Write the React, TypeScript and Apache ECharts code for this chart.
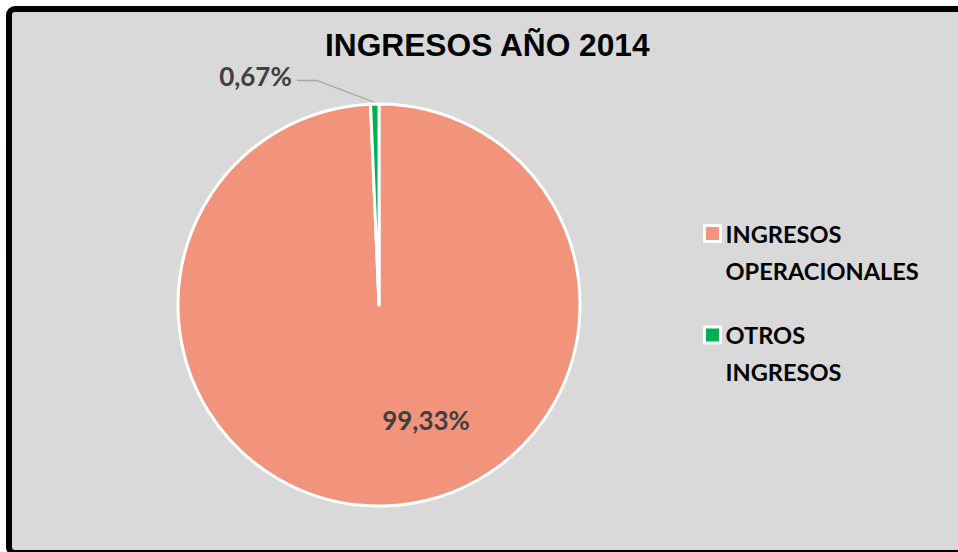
import React, { useEffect, useRef } from "react";
import * as echarts from "echarts";

const categories = ["INGRESOS\nOPERACIONALES", "OTROS\nINGRESOS"];
const values = [99.33, 0.67];
const labels = ["99,33%", "0,67%"];
const colors = ["#F2937B", "#00B050"];
const titleText = "INGRESOS AÑO 2014";

export default function App() {
  const ref = useRef<HTMLDivElement>(null);
  useEffect(() => {
    if (!ref.current) return;
    const chart = echarts.init(ref.current, undefined, { renderer: "svg" });
    const option: any = {
      animation: false,
      backgroundColor: "#ffffff",
      graphic: [
        {
          type: "rect",
          z: -10,
          silent: true,
          shape: { x: 9, y: 9, width: 975, height: 544, r: 6 },
          style: { fill: "#D9D9D9", stroke: "#000000", lineWidth: 6 },
        },
      ],
      title: {
        text: titleText,
        left: 325,
        top: 29,
        padding: 0,
        textStyle: {
          fontFamily: "Liberation Sans",
          fontWeight: "bold",
          fontSize: 31.7,
          color: "#000000",
        },
      },
      legend: {
        orient: "vertical",
        left: 703,
        top: 178,
        padding: 0,
        itemWidth: 16,
        itemHeight: 16,
        itemGap: -9.5,
        icon: "rect",
        selectedMode: false,
        itemStyle: { borderColor: "#ffffff", borderWidth: 3 },
        formatter: (name: string) => "\u00a0\n" + name,
        textStyle: {
          fontFamily: "Lato",
          fontWeight: "bold",
          fontSize: 23.6,
          lineHeight: 37,
          color: "#000000",
        },
        data: categories,
      },
      series: [
        {
          type: "pie",
          center: [379, 305],
          radius: 201,
          startAngle: 90,
          clockwise: true,
          avoidLabelOverlap: false,
          itemStyle: { borderColor: "#ffffff", borderWidth: 3 },
          emphasis: { disabled: true },
          labelLayout: (params: any) => {
            const r = params.rect;
            if (params.dataIndex === 0) {
              return {
                x: r.x + r.width / 2 + 47,
                y: r.y + r.height / 2 + 115,
                align: "center",
                verticalAlign: "middle",
              };
            }
            const tx = r.x + r.width / 2;
            const ty = r.y;
            return {
              x: tx - 83,
              y: ty - 27,
              align: "right",
              verticalAlign: "middle",
              labelLinePoints: [
                [tx, ty],
                [tx - 58, ty - 22],
                [tx - 78, ty - 22],
              ],
            };
          },
          data: categories.map((name, i) => ({
            name,
            value: values[i],
            itemStyle: { color: colors[i] },
            label: {
              show: true,
              position: i === 0 ? "inside" : "outside",
              formatter: labels[i],
              fontFamily: "Lato",
              fontWeight: "bold",
              fontSize: 26,
              color: "#404040",
            },
            labelLine: {
              show: i === 1,
              lineStyle: { color: "#A6A6A6", width: 1.3 },
            },
          })),
        },
      ],
    };
    chart.setOption(option);
    return () => chart.dispose();
  }, []);
  return (
    <div
      ref={ref}
      style={{ position: "fixed", left: 0, top: 0, width: 958, height: 552 }}
    />
  );
}
